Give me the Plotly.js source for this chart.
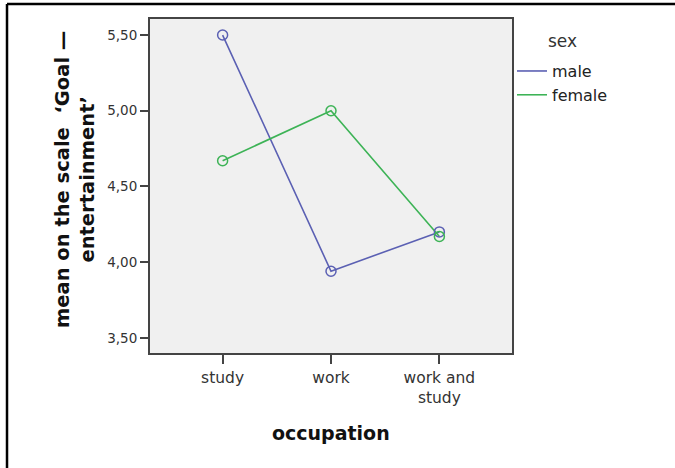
<!DOCTYPE html>
<html>
<head>
<meta charset="utf-8">
<script src="https://cdn.plot.ly/plotly-3.0.1.min.js"></script>
<style>html,body{margin:0;padding:0;background:#fff;}#chart{width:675px;height:468px;}</style>
</head>
<body>
<div id="chart"></div>
<script>
var occupations = ["study", "work", "work and study"];
var tickLabels = ["study", "work", "work and<br>study"];
var maleMeans = [5.50, 3.94, 4.20];
var femaleMeans = [4.67, 5.00, 4.17];
var seriesNames = ["male", "female"];
var legendTitle = "sex";
var yTicks = [3.5, 4.0, 4.5, 5.0, 5.5];

var maleColor = "#5b60b3";
var femaleColor = "#3db356";
var font = "DejaVu Sans, Verdana, sans-serif";

function lineTrace(name, y, color) {
  return {x: occupations, y: y, name: name, type: "scatter", mode: "lines",
    line: {color: color, width: 1.6}, showlegend: true, hoverinfo: "skip"};
}
function markerTrace(name, y, color) {
  return {x: occupations, y: y, name: name, type: "scatter", mode: "markers",
    marker: {symbol: "circle-open", size: 10, color: color, line: {color: color, width: 1.5}},
    showlegend: false, hoverinfo: "skip"};
}

var data = [
  lineTrace(seriesNames[0], maleMeans, maleColor),
  lineTrace(seriesNames[1], femaleMeans, femaleColor),
  markerTrace(seriesNames[0], maleMeans, maleColor),
  markerTrace(seriesNames[1], femaleMeans, femaleColor)
];

var layout = {
  width: 675, height: 468,
  margin: {l: 150, r: 163, t: 19, b: 115},
  paper_bgcolor: "#ffffff",
  plot_bgcolor: "#f0f0f0",
  separators: ",.",
  font: {family: font, size: 13, color: "#333"},
  xaxis: {
    type: "category", categoryorder: "array", categoryarray: occupations,
    tickvals: occupations, ticktext: tickLabels,
    range: [-0.67, 2.67],
    showgrid: false, zeroline: false,
    showline: true, linecolor: "#444", linewidth: 2, mirror: true,
    ticks: "outside", ticklen: 9, tickwidth: 2, tickcolor: "#444",
    tickfont: {family: font, size: 15.5, color: "#333"}
  },
  yaxis: {
    range: [3.4, 5.606],
    tickvals: yTicks, tickformat: ".2f",
    showgrid: false, zeroline: false,
    showline: true, linecolor: "#444", linewidth: 2, mirror: true,
    ticks: "outside", ticklen: 8, tickwidth: 2, tickcolor: "#444",
    tickfont: {family: font, size: 13.5, color: "#333"}
  },
  showlegend: true,
  legend: {
    x: 1.0, xanchor: "left", y: 0.895, yanchor: "top",
    bgcolor: "rgba(0,0,0,0)",
    font: {family: font, size: 16, color: "#222"},
    traceorder: "normal",
    itemwidth: 30
  },
  annotations: [
    {xref: "paper", yref: "paper", x: 1.095, y: 0.935, xanchor: "left", yanchor: "middle",
     showarrow: false, text: legendTitle,
     font: {family: font, size: 17, color: "#333"}},
    {xref: "paper", yref: "paper", x: -0.207, y: 0.518, xanchor: "center", yanchor: "middle",
     textangle: -90, showarrow: false,
     text: "<b>mean on the scale&nbsp; ‘Goal —<br>entertainment’</b>",
     font: {family: font, size: 19.5, color: "#111"}},
    {xref: "paper", yref: "paper", x: 0.5, y: -0.24, xanchor: "center", yanchor: "middle",
     showarrow: false, text: "<b>occupation</b>",
     font: {family: font, size: 19, color: "#111"}}
  ],
  shapes: [
    {type: "line", xref: "paper", yref: "paper", x0: -0.395, x1: 1.5, y0: 1.045, y1: 1.045,
     line: {color: "#000", width: 2.5}},
    {type: "line", xref: "paper", yref: "paper", x0: -0.395, x1: -0.395, y0: 1.045, y1: -0.4,
     line: {color: "#000", width: 2.5}}
  ]
};

Plotly.newPlot("chart", data, layout, {staticPlot: true});
</script>
</body>
</html>
